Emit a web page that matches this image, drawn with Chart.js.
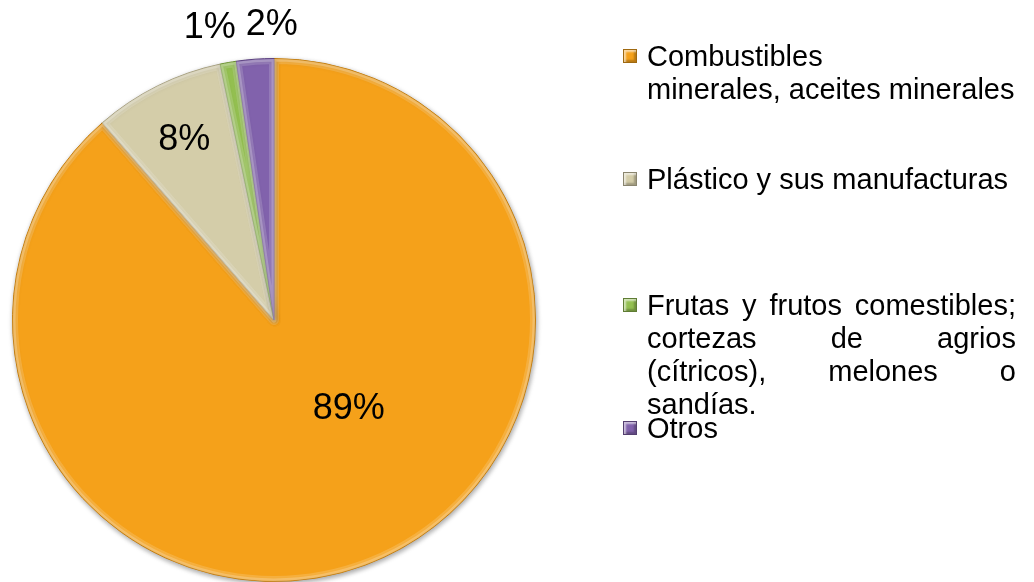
<!DOCTYPE html>
<html>
<head>
<meta charset="utf-8">
<script src="https://cdn.jsdelivr.net/npm/chart.js@4.4.1/dist/chart.umd.min.js"></script>
<style>
  html, body { margin: 0; padding: 0; background: #fff; overflow: hidden; }
  #wrap { position: relative; width: 1034px; height: 582px; }
  #pie { position: absolute; left: 0; top: 0; }
  .item { position: absolute; left: 623px; width: 393px; font: 29px "Liberation Sans", Arial, sans-serif; line-height: 33px; color: #000; }
  .box { position: absolute; left: 0; width: 12px; height: 12px; border: 1px solid rgba(0,0,0,0.35); box-shadow: inset 2px 2px 2px rgba(255,255,255,0.6), inset -2px -2px 2px rgba(0,0,0,0.25); }
  .txt { margin-left: 24px; width: 369px; }
  .txt div { text-align: justify; text-align-last: justify; }
  .txt div:last-child { text-align-last: left; white-space: nowrap; }
</style>
</head>
<body>
<div id="wrap">
  <canvas id="pie" width="1034" height="582"></canvas>
  <div id="legend"></div>
</div>
<script>
// categories, one entry per slice (lines as in the legend)
const categories = [
  ['Combustibles', 'minerales, aceites minerales'],
  ['Plástico y sus manufacturas'],
  ['Frutas y frutos comestibles;', 'cortezas de agrios', '(cítricos), melones o', 'sandías.'],
  ['Otros']
];
// share of total, %
const shares = [88.6, 8.1, 1.0, 2.3];
const sliceColors = ['#F5A11A', '#D4CDA9', '#93BF50', '#8162AC'];
const edgeColors = ['#C47F12', '#A9A283', '#6E9235', '#5E4382'];

// label placement: radius fraction, and small nudges
const labelRadius = [0.5, 0.77, 1.14, 1.13];
const labelNudge = [[29, -33], [0, 0], [-12, 2], [19, 0]];

const shade = {
  id: 'shade',
  beforeDatasetsDraw(chart) {
    const c = chart.ctx;
    c.save();
    c.shadowColor = 'rgba(0,0,0,0.35)';
    c.shadowBlur = 5;
    c.shadowOffsetX = 1;
    c.shadowOffsetY = 2;
  },
  afterDatasetsDraw(chart) {
    chart.ctx.restore();
  }
};

// soft bevel: light inner rim on every slice
const bevel = {
  id: 'bevel',
  afterDatasetsDraw(chart) {
    const c = chart.ctx;
    chart.getDatasetMeta(0).data.forEach(arc => {
      const p = arc.getProps(['x', 'y', 'startAngle', 'endAngle', 'outerRadius'], true);
      c.save();
      c.beginPath();
      c.moveTo(p.x, p.y);
      c.arc(p.x, p.y, p.outerRadius - 0.5, p.startAngle, p.endAngle);
      c.closePath();
      c.clip();
      c.lineJoin = 'round';
      c.strokeStyle = 'rgba(255,255,255,0.16)';
      c.lineWidth = 10;
      c.stroke();
      c.strokeStyle = 'rgba(255,255,255,0.22)';
      c.lineWidth = 5;
      c.stroke();
      c.restore();
    });
  }
};

const pctLabels = {
  id: 'pctLabels',
  afterDatasetsDraw(chart) {
    const c = chart.ctx;
    const meta = chart.getDatasetMeta(0);
    c.save();
    c.font = '36px "Liberation Sans", Arial, sans-serif';
    c.fillStyle = '#000';
    c.textAlign = 'center';
    c.textBaseline = 'middle';
    meta.data.forEach((arc, i) => {
      const p = arc.getProps(['x', 'y', 'startAngle', 'endAngle', 'outerRadius'], true);
      const mid = (p.startAngle + p.endAngle) / 2;
      const r = p.outerRadius * labelRadius[i];
      const x = p.x + Math.cos(mid) * r + labelNudge[i][0];
      const y = p.y + Math.sin(mid) * r + labelNudge[i][1];
      c.fillText(Math.round(shares[i]) + '%', x, y);
    });
    c.restore();
  }
};

const ctx = document.getElementById('pie').getContext('2d');
const chart = new Chart(ctx, {
  type: 'pie',
  data: {
    labels: categories,
    datasets: [{
      data: shares,
      backgroundColor: sliceColors,
      borderColor: edgeColors,
      borderWidth: 1
    }]
  },
  options: {
    responsive: false,
    animation: false,
    layout: { padding: { left: 12, top: 58, right: 498, bottom: 0 } },
    plugins: {
      legend: { display: false },
      tooltip: { enabled: false }
    }
  },
  plugins: [shade, bevel, pctLabels]
});

// legend built from the chart's own data
const itemTops = [39.5, 162.5, 288.5, 411.5];
const legendEl = document.getElementById('legend');
chart.data.labels.forEach((lines, i) => {
  const item = document.createElement('div');
  item.className = 'item';
  item.style.top = itemTops[i] + 'px';
  const box = document.createElement('div');
  box.className = 'box';
  box.style.top = '9px';
  box.style.background = chart.data.datasets[0].backgroundColor[i];
  item.appendChild(box);
  const txt = document.createElement('div');
  txt.className = 'txt';
  lines.forEach(l => {
    const d = document.createElement('div');
    d.textContent = l;
    txt.appendChild(d);
  });
  item.appendChild(txt);
  legendEl.appendChild(item);
});
</script>
</body>
</html>
